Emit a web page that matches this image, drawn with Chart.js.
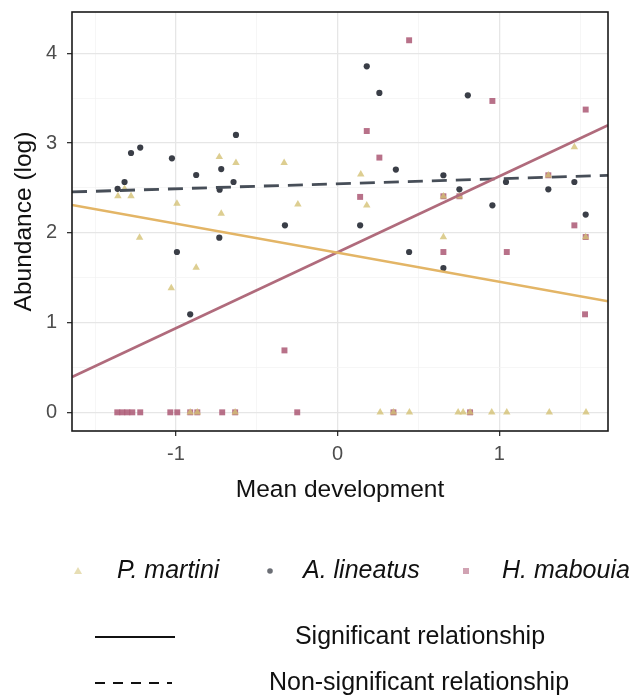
<!DOCTYPE html>
<html>
<head>
<meta charset="utf-8">
<script src="https://cdn.jsdelivr.net/npm/chart.js@4.4.1/dist/chart.umd.min.js"></script>
<style>
  html, body { margin: 0; padding: 0; background: #fff; }
  canvas { display: block; }
</style>
</head>
<body>
<canvas id="devChart" width="643" height="697"></canvas>
<script>
// P. martini (triangles)
const martiniX = [-1.359, -1.318, -1.278, -1.225, -1.029, -0.994, -0.875, -0.732, -0.72, -0.629, -0.331, -0.246,
  0.143, 0.18, 0.654, 0.654, 0.753, 1.303, 1.464, 1.534,
  -0.912, -0.868, -0.634, 0.263, 0.345, 0.444, 0.745, 0.776, 0.819, 0.953, 1.046, 1.309, 1.536];
const martiniY = [2.41, 2.49, 2.41, 1.946, 1.385, 2.325, 1.612, 2.845, 2.214, 2.78, 2.78, 2.318,
  2.652, 2.306, 1.953, 2.407, 2.407, 2.641, 2.956, 1.953,
  0, 0, 0, 0, 0, 0, 0, 0, 0, 0, 0, 0, 0];

// A. lineatus (circles)
const lineatusX = [-1.361, -1.318, -1.278, -1.221, -1.025, -0.994, -0.912, -0.875, -0.732, -0.73, -0.72, -0.644,
  -0.629, -0.326, 0.139, 0.18, 0.258, 0.36, 0.442, 0.654, 0.654, 0.753, 0.805, 0.957, 1.041, 1.303, 1.464, 1.534];
const lineatusY = [2.49, 2.566, 2.889, 2.95, 2.83, 1.786, 1.092, 2.644, 1.946, 2.48, 2.71, 2.566,
  3.09, 2.083, 2.083, 3.855, 3.558, 2.704, 1.786, 2.641, 1.608, 2.485, 3.532, 2.306, 2.566, 2.485, 2.566, 2.203];

// H. mabouia (squares)
const mabouiaX = [-0.329, 0.139, 0.18, 0.258, 0.442, 0.654, 0.654, 0.753, 0.957, 1.046, 1.303, 1.464, 1.534, 1.534, 1.53,
  -1.363, -1.332, -1.301, -1.27, -1.221, -1.035, -0.992, -0.912, -0.868, -0.714, -0.634, -0.25, 0.345, 0.819];
const mabouiaY = [0.69, 2.4, 3.134, 2.838, 4.145, 2.407, 1.786, 2.407, 3.469, 1.786, 2.641, 2.083, 3.373, 1.953, 1.092,
  0, 0, 0, 0, 0, 0, 0, 0, 0, 0, 0, 0, 0, 0];

// fitted lines, value at the two ends of the x range
const fitX = [-1.643, 1.672];
const martiniFit = [2.31, 1.237];
const lineatusFit = [2.455, 2.64];
const mabouiaFit = [0.393, 3.198];

const xTicks = [-1.5, -1, -0.5, 0, 0.5, 1, 1.5];
const yTicks = [0, 0.5, 1, 1.5, 2, 2.5, 3, 3.5, 4];

const colors = {
  martini: 'rgba(212,194,118,0.8)',
  martiniLine: '#e3b566',
  lineatus: '#3a3e47',
  lineatusLine: '#474e58',
  mabouia: 'rgba(172,88,116,0.85)',
  mabouiaLine: '#b06b7c'
};

const toPoints = (xs, ys) => xs.map((x, i) => ({ x: x, y: ys[i] }));

const FONT = "'Liberation Sans', Arial, sans-serif";

// panel border + legend below the plot
const extras = {
  id: 'extras',
  afterDraw(chart) {
    const ctx = chart.ctx;
    const a = chart.chartArea;
    ctx.save();
    ctx.strokeStyle = '#1a1a1a';
    ctx.lineWidth = 1.6;
    ctx.strokeRect(a.left, a.top, a.right - a.left, a.bottom - a.top);

    // species legend
    const rowY = 571;
    ctx.fillStyle = 'rgba(212,194,118,0.55)';
    ctx.beginPath();
    ctx.moveTo(78, rowY - 4); ctx.lineTo(82, rowY + 3); ctx.lineTo(74, rowY + 3); ctx.closePath();
    ctx.fill();
    ctx.fillStyle = 'rgba(58,62,71,0.75)';
    ctx.beginPath(); ctx.arc(270, rowY, 2.8, 0, Math.PI * 2); ctx.fill();
    ctx.fillStyle = 'rgba(172,88,116,0.55)';
    ctx.fillRect(463, rowY - 3, 6, 6);

    ctx.fillStyle = '#111';
    ctx.textBaseline = 'middle';
    ctx.textAlign = 'left';
    ctx.font = 'italic 25px ' + FONT;
    ctx.fillText('P. martini', 117, rowY);
    ctx.fillText('A. lineatus', 303, rowY);
    ctx.fillText('H. mabouia', 502, rowY);

    // line type legend
    ctx.strokeStyle = '#111';
    ctx.lineWidth = 2;
    ctx.beginPath(); ctx.moveTo(95, 637); ctx.lineTo(175, 637); ctx.stroke();
    ctx.setLineDash([10, 8]);
    ctx.beginPath(); ctx.moveTo(95, 683); ctx.lineTo(172, 683); ctx.stroke();
    ctx.setLineDash([]);
    ctx.font = '25px ' + FONT;
    ctx.textAlign = 'center';
    ctx.fillText('Significant relationship', 420, 637);
    ctx.fillText('Non-significant relationship', 419, 683);
    ctx.restore();
  }
};

const gridColor = c => (Number.isInteger(c.tick.value) ? '#e6e6e6' : '#f2f2f2');
const gridWidth = c => (Number.isInteger(c.tick.value) ? 1.3 : 0.7);
const tickColor = c => (Number.isInteger(c.tick.value) ? '#333' : 'rgba(0,0,0,0)');

const ctx = document.getElementById('devChart').getContext('2d');
new Chart(ctx, {
  type: 'scatter',
  data: {
    datasets: [
      {
        label: 'P. martini',
        data: toPoints(martiniX, martiniY),
        pointStyle: 'triangle',
        pointRadius: 4.3,
        backgroundColor: colors.martini,
        borderWidth: 0,
        order: 3
      },
      {
        label: 'A. lineatus',
        data: toPoints(lineatusX, lineatusY),
        pointStyle: 'circle',
        pointRadius: 3.1,
        backgroundColor: colors.lineatus,
        borderWidth: 0,
        order: 2
      },
      {
        label: 'H. mabouia',
        data: toPoints(mabouiaX, mabouiaY),
        pointStyle: 'rect',
        pointRadius: 4.2,
        backgroundColor: colors.mabouia,
        borderWidth: 0,
        order: 4
      },
      {
        label: 'P. martini fit',
        data: toPoints(fitX, martiniFit),
        showLine: true,
        pointRadius: 0,
        borderColor: colors.martiniLine,
        borderWidth: 2.6,
        order: 0
      },
      {
        label: 'H. mabouia fit',
        data: toPoints(fitX, mabouiaFit),
        showLine: true,
        pointRadius: 0,
        borderColor: colors.mabouiaLine,
        borderWidth: 2.6,
        order: 0
      },
      {
        label: 'A. lineatus fit',
        data: toPoints(fitX, lineatusFit),
        showLine: true,
        pointRadius: 0,
        borderColor: colors.lineatusLine,
        borderWidth: 2.8,
        borderDash: [15, 9],
        order: 0
      }
    ]
  },
  options: {
    responsive: false,
    animation: false,
    devicePixelRatio: 1,
    layout: { padding: { top: 12, right: 35, left: 0, bottom: 186 } },
    plugins: {
      legend: { display: false },
      tooltip: { enabled: false }
    },
    scales: {
      x: {
        type: 'linear',
        min: fitX[0],
        max: fitX[1],
        afterBuildTicks: axis => { axis.ticks = xTicks.map(v => ({ value: v })); },
        afterFit: axis => { axis.height = 80; axis.paddingLeft = 0; axis.paddingRight = 0; },
        border: { display: false },
        grid: { color: gridColor, lineWidth: gridWidth, tickColor: tickColor, tickLength: 5, tickWidth: 1.3 },
        ticks: {
          autoSkip: false,
          maxRotation: 0,
          padding: 6,
          color: '#4d4d4d',
          font: { family: FONT, size: 20 },
          callback: v => (Number.isInteger(v) ? String(v) : '')
        },
        title: {
          display: true,
          text: 'Mean development',
          color: '#111',
          font: { family: FONT, size: 24.5 },
          padding: { top: 0, bottom: 6 }
        }
      },
      y: {
        type: 'linear',
        min: -0.208,
        max: 4.46,
        afterBuildTicks: axis => { axis.ticks = yTicks.map(v => ({ value: v })); },
        afterFit: axis => { axis.width = 72; axis.paddingTop = 0; axis.paddingBottom = 0; },
        border: { display: false },
        grid: { color: gridColor, lineWidth: gridWidth, tickColor: tickColor, tickLength: 5, tickWidth: 1.3 },
        ticks: {
          autoSkip: false,
          padding: 10,
          color: '#4d4d4d',
          font: { family: FONT, size: 20 },
          callback: v => (Number.isInteger(v) ? String(v) : '')
        },
        title: {
          display: true,
          text: 'Abundance (log)',
          color: '#111',
          font: { family: FONT, size: 24.5 },
          padding: { top: 10, bottom: 0 }
        }
      }
    }
  },
  plugins: [extras]
});
</script>
</body>
</html>
